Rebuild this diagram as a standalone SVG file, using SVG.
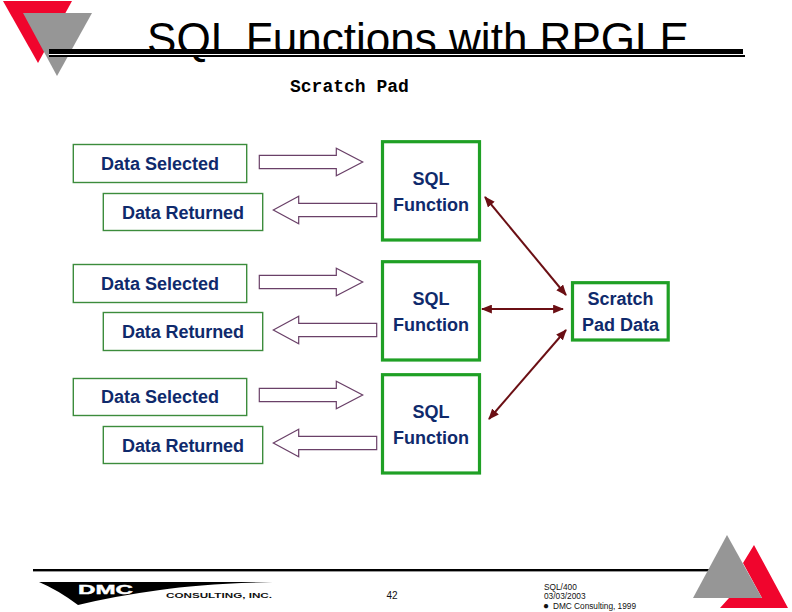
<svg xmlns="http://www.w3.org/2000/svg" width="792" height="612" viewBox="0 0 792 612">
<style>
text{font-family:"Liberation Sans",Arial,sans-serif}
.lbl{font-size:18px;font-weight:700;fill:#0f2a6c}
.mid{text-anchor:middle}
.thin{fill:#fff;stroke:#3c8c3c;stroke-width:1.4}
.thick{fill:#fff;stroke:#1fa025;stroke-width:3.2}
.block{fill:#fff;stroke:#6a4068;stroke-width:1.2}
.dbl{stroke:#6b0f14;stroke-width:2;fill:none;marker-start:url(#h);marker-end:url(#h)}
.foot{font-size:8.3px;fill:#111}
</style>
<defs>
<marker id="h" viewBox="0 0 10 8" refX="9" refY="4" markerWidth="5.5" markerHeight="4.5" orient="auto-start-reverse" markerUnits="strokeWidth"><path d="M0 0L10 4L0 8Z" fill="#6b0f14"/></marker>
<path id="ra" d="M0 -6.7H77V-13.7L103.4 0L77 13.7V6.7H0Z"/>
<path id="la" d="M0 0L25.4 -13.7V-6.7H103.4V6.7H25.4V13.7Z"/>
</defs>
<rect width="792" height="612" fill="#fff"/>
<g id="logo-top">
<polygon points="3,1 72,1 38,63" fill="#f0052d"/>
<polygon points="23,13 92,13 57,76" fill="#969696"/>
</g>
<g id="title">
<text x="147" y="54" font-size="43.7" fill="#000" textLength="542" lengthAdjust="spacingAndGlyphs">SQL Functions with RPGLE</text>
<rect x="49" y="49" width="694" height="5" fill="#000"/>
<rect x="49" y="54" width="696" height="1.2" fill="#fff"/>
<rect x="49" y="55" width="696" height="2" fill="#000"/>
</g>
<text id="subtitle" x="290" y="92" style="font-family:'Liberation Mono',monospace" font-size="18" font-weight="700" fill="#000">Scratch Pad</text>
<g id="connectors">
<use href="#ra" x="259.3" y="162" class="block"/>
<use href="#la" x="273.3" y="210" class="block"/>
<use href="#ra" x="259.3" y="282" class="block"/>
<use href="#la" x="273.3" y="330" class="block"/>
<use href="#ra" x="259.3" y="395" class="block"/>
<use href="#la" x="273.3" y="443" class="block"/>
<line class="dbl" x1="485" y1="197" x2="566" y2="295"/>
<line class="dbl" x1="482" y1="309" x2="563" y2="309"/>
<line class="dbl" x1="566" y1="330" x2="489" y2="419"/>
</g>
<g id="sel1"><rect class="thin" x="73.3" y="144.5" width="173.4" height="38"/><text class="lbl" x="101" y="169.5">Data Selected</text></g>
<g id="ret1"><rect class="thin" x="103.3" y="193.5" width="159.4" height="37"/><text class="lbl" x="122" y="218.5" textLength="122">Data Returned</text></g>
<g id="sel2"><rect class="thin" x="73.3" y="264.5" width="173.4" height="38"/><text class="lbl" x="101" y="289.5">Data Selected</text></g>
<g id="ret2"><rect class="thin" x="103.3" y="312.5" width="159.4" height="38"/><text class="lbl" x="122" y="337.7" textLength="122">Data Returned</text></g>
<g id="sel3"><rect class="thin" x="73.3" y="378.5" width="173.4" height="37"/><text class="lbl" x="101" y="403.3">Data Selected</text></g>
<g id="ret3"><rect class="thin" x="103.3" y="426.5" width="159.4" height="37"/><text class="lbl" x="122" y="451.7" textLength="122">Data Returned</text></g>
<g id="fn1"><rect class="thick" x="382.5" y="141.7" width="97" height="98.3"/><text class="lbl mid" x="431" y="185">SQL</text><text class="lbl mid" x="431" y="210.7">Function</text></g>
<g id="fn2"><rect class="thick" x="382.5" y="261.7" width="97" height="98.3"/><text class="lbl mid" x="431" y="305">SQL</text><text class="lbl mid" x="431" y="330.7">Function</text></g>
<g id="fn3"><rect class="thick" x="382.5" y="374.7" width="97" height="98.3"/><text class="lbl mid" x="431" y="418">SQL</text><text class="lbl mid" x="431" y="443.7">Function</text></g>
<g id="pad"><rect class="thick" x="572.5" y="282.7" width="95.7" height="57.3"/><text class="lbl mid" x="620.5" y="305">Scratch</text><text class="lbl mid" x="620.5" y="331">Pad Data</text></g>
<g id="footer">
<rect x="33" y="569" width="678" height="2.4" fill="#000"/>
<path d="M754,545 L788,608 L720,608 L729,598 L762,598 L743,563Z" fill="#f0052d"/>
<polygon points="727,535 693,598 762,598" fill="#969696" id="tri-g"/>
<path d="M39,582 H273 Q200,584 160,590 Q115,596 78,605 Q58,590 39,582Z" fill="#000"/>
<text x="78" y="594" font-size="13" font-weight="700" fill="#fff" stroke="#fff" stroke-width=".4" textLength="55" lengthAdjust="spacingAndGlyphs">DMC</text>
<text x="166" y="598" font-size="7" font-weight="700" fill="#111" textLength="106" lengthAdjust="spacingAndGlyphs">CONSULTING, INC.</text>
<text x="392" y="599" class="mid" font-size="10" fill="#111">42</text>
<text x="544" y="590" class="foot">SQL/400</text>
<text x="544" y="599" class="foot">03/03/2003</text>
<text x="543" y="609" font-size="10" fill="#111">●</text>
<text x="553" y="609" class="foot" textLength="83">DMC Consulting, 1999</text>
</g>
</svg>
